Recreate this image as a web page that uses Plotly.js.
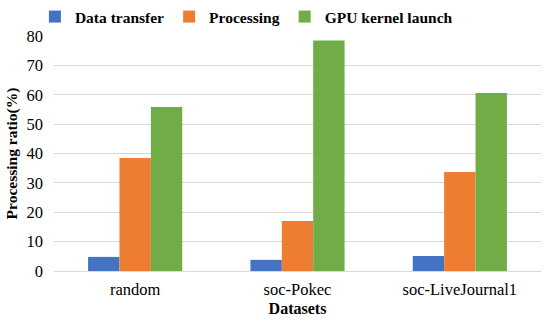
<!DOCTYPE html>
<html>
<head>
<script src="https://cdn.plot.ly/plotly-3.0.1.min.js"></script>
<style>body{margin:0;padding:0;background:#fff;} #chart{width:550px;height:327px;}</style>
</head>
<body>
<div id="chart"></div>
<script>
const categories = ["random", "soc-Pokec", "soc-LiveJournal1"];
const dataTransfer = [4.8, 3.8, 5.1];
const processing = [38.5, 17.0, 33.7];
const gpuKernelLaunch = [55.8, 78.5, 60.6];
const seriesNames = ["Data transfer", "Processing", "GPU kernel launch"];
const yTicks = [0, 10, 20, 30, 40, 50, 60, 70, 80];

const colors = ["#4472C4", "#ED7D31", "#70AD47"];
const values = [dataTransfer, processing, gpuKernelLaunch];
const traces = values.map((v, i) => ({
  type: "bar",
  name: "<b>" + seriesNames[i] + "</b>",
  x: categories,
  y: v,
  marker: {color: colors[i]},
  hoverinfo: "skip"
}));

const layout = {
  width: 550, height: 327,
  margin: {l: 54, r: 9, t: 36, b: 56},
  paper_bgcolor: "#fff", plot_bgcolor: "#fff",
  barmode: "group",
  bargap: 0.42,
  bargroupgap: 0,
  font: {family: "Liberation Serif", size: 16.5, color: "#000"},
  showlegend: true,
  legend: {
    orientation: "h", xref: "container", x: 0.448, xanchor: "center",
    y: 1.0, yref: "container", yanchor: "top",
    bgcolor: "rgba(0,0,0,0)",
    font: {family: "Liberation Serif", size: 15.5, color: "#000"},
    itemwidth: 30, tracegroupgap: 0
  },
  xaxis: {
    type: "category",
    showgrid: false, zeroline: false, showline: false,
    ticks: "", tickfont: {size: 16.5}, ticklabelstandoff: 6,
    title: {text: "<b>Datasets</b>", font: {size: 16}, standoff: 5}
  },
  yaxis: {
    range: [0, 80],
    tickvals: yTicks,
    showgrid: true, gridcolor: "#d9d9d9", gridwidth: 1,
    zeroline: true, zerolinecolor: "#d9d9d9", showline: false,
    ticks: "", tickfont: {size: 16.5}, ticklabelstandoff: 10,
    title: {text: "<b>Processing ratio(%)</b>", font: {size: 15.5}, standoff: 5}
  }
};

Plotly.newPlot("chart", traces, layout, {displayModeBar: false, staticPlot: true});
</script>
</body>
</html>
